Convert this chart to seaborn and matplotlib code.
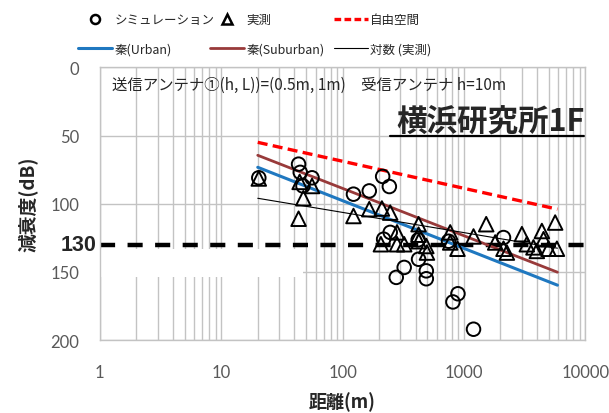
import numpy as np
import pandas as pd
import seaborn as sns
import matplotlib.pyplot as plt
from matplotlib.lines import Line2D
from matplotlib.patches import Rectangle
from matplotlib.ticker import FixedLocator, FixedFormatter, NullFormatter
from matplotlib.transforms import blended_transform_factory

# Simulation results: distance (m) and attenuation (dB)
sim_dist = [20.4, 43.4, 44.8, 47.2, 56, 123, 166, 214, 243, 218, 247, 322, 277,
            423, 490, 490, 420, 747, 893, 812, 1200, 2120]
sim_loss = [81, 71, 77, 87, 81, 93, 90.6, 80, 87.4, 126, 121, 146.7, 154,
            140.7, 149.2, 155, 126.5, 127.5, 166, 172, 192, 124.8]

# Field measurements: distance (m) and attenuation (dB)
meas_dist = [20.4, 44.3, 47.5, 56, 43.4, 123, 166, 211, 247, 207, 281, 281, 322,
             423, 423, 425, 496, 490, 771, 771, 885, 1200, 1527, 1811, 2120, 2260,
             3006, 3300, 3743, 3990, 4390, 4530, 4977, 5840, 5650]
meas_loss = [81.5, 84, 96, 87, 111, 109, 104, 103.5, 106.5, 129.7, 121, 129.7, 129.7,
             115, 122.7, 127.5, 135.8, 131, 121, 128.4, 133, 124, 115, 128.4, 133, 135.8,
             122.3, 129.7, 132, 134.6, 120, 126, 133, 133, 113.8]

# Model curves evaluated at the ends of the distance range
line_dist = [20, 5900]
free_space = [55, 104]
hata_urban = [73.3, 159.7]
hata_suburban = [64.5, 150.2]
log_fit = [96, 132.6]

threshold = 130
x_ticks = [1, 10, 100, 1000, 10000]
x_labels = ["1", "10", "100", "1000", "10000"]
y_ticks = [0, 50, 100, 150, 200]

sns.set_theme(style="white")
plt.rcParams["font.family"] = ["Noto Sans CJK JP", "DejaVu Sans"]

fig = plt.figure(figsize=(6.09, 4.14), dpi=100)
ax = fig.add_axes([0.164, 0.176, 0.797, 0.659])

ax.set_xscale("log")
ax.set_xlim(1, 10000)
ax.set_ylim(200, 0)

grid_c = "#c3c3c3"
ax.grid(True, which="both", axis="x", color=grid_c, lw=1.0, zorder=0)
ax.grid(True, which="major", axis="y", color=grid_c, lw=1.0, zorder=0)
ax.set_axisbelow(True)

ax.xaxis.set_major_locator(FixedLocator(x_ticks))
ax.xaxis.set_major_formatter(FixedFormatter(x_labels))
ax.xaxis.set_minor_formatter(NullFormatter())
ax.set_yticks(y_ticks)
ax.tick_params(axis="x", which="both", length=0, pad=17, labelsize=12, labelcolor="#595959")
ax.tick_params(axis="y", length=0, pad=15, labelsize=12, labelcolor="#595959")
for lab in ax.get_xticklabels() + ax.get_yticklabels():
    lab.set_family(["Lato", "DejaVu Sans"])

for side in ["left", "bottom", "top", "right"]:
    ax.spines[side].set_color(grid_c)
    ax.spines[side].set_linewidth(1.0)

# blank patch over the lower-left plot region
ax.add_patch(Rectangle((0, 0.231), 0.418, 0.102, transform=ax.transAxes,
                       facecolor="white", edgecolor="none", zorder=1))

ax.axhline(threshold, color="black", lw=3.2, linestyle=(0, (3.4, 2.8)), zorder=2)

sns.lineplot(x=line_dist, y=free_space, ax=ax, color="#ff0000", lw=2.4,
             linestyle=(0, (3.0, 1.6)), zorder=3)
sns.lineplot(x=line_dist, y=hata_urban, ax=ax, color="#1f78c0", lw=2.2, zorder=3)
sns.lineplot(x=line_dist, y=hata_suburban, ax=ax, color="#983a3a", lw=2.0, zorder=3)
sns.lineplot(x=line_dist, y=log_fit, ax=ax, color="black", lw=0.8, zorder=3)

sns.scatterplot(x=sim_dist, y=sim_loss, ax=ax, marker="o", s=95,
                facecolors="none", edgecolor="black", linewidth=1.4, zorder=4)
sns.scatterplot(x=meas_dist, y=meas_loss, ax=ax, marker="^", s=110,
                facecolors="none", edgecolor="black", linewidth=1.4, zorder=4)

trans = blended_transform_factory(ax.transAxes, ax.transData)
ax.text(-0.006, threshold, "130", transform=trans, ha="right", va="center",
        fontsize=15.5, fontweight="bold", family=["Liberation Sans", "DejaVu Sans"])

ax.text(0.025, 0.938, "送信アンテナ①(h, L))=(0.5m, 1m)　受信アンテナ h=10m",
        transform=ax.transAxes, ha="left", va="center", fontsize=11.1)
ax.text(0.998, 0.806, "横浜研究所1F", transform=ax.transAxes, ha="right", va="center",
        fontsize=22, fontweight="bold")
ax.add_line(Line2D([0.598, 0.998], [0.748, 0.748], transform=ax.transAxes,
                   color="black", lw=1.6, clip_on=False))

ax.set_xlabel("距離(m)", fontsize=13, fontweight="bold", labelpad=8)
ax.set_ylabel("減衰度(dB)", fontsize=13.5, fontweight="bold", labelpad=8)

# legend: three columns of two entries each
columns = [
    (0.128, [Line2D([], [], ls="none", marker="o", mfc="none", mec="black", mew=1.8, ms=6.5),
             Line2D([], [], color="#1f78c0", lw=2.2)],
     ["シミュレーション", "秦(Urban)"]),
    (0.345, [Line2D([], [], ls="none", marker="^", mfc="none", mec="black", mew=1.8, ms=6.5),
             Line2D([], [], color="#983a3a", lw=2.0)],
     ["実測", "秦(Suburban)"]),
    (0.548, [Line2D([], [], color="#ff0000", lw=2.4, linestyle=(0, (2.0, 1.0))),
             Line2D([], [], color="black", lw=0.8)],
     ["自由空間", "対数 (実測)"]),
]
for x0, hs, ls in columns:
    fig.legend(hs, ls, loc="upper left", bbox_to_anchor=(x0, 0.966),
               frameon=False, fontsize=9, handlelength=2.75, handletextpad=0.15,
               labelspacing=1.29, borderpad=0, borderaxespad=0)

fig.savefig("out.png", dpi=100)
